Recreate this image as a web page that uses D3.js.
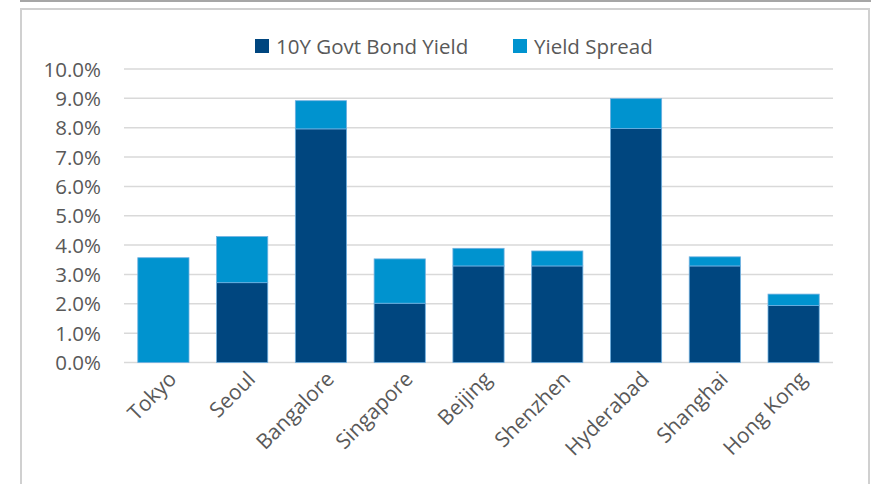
<!DOCTYPE html>
<meta charset="utf-8">
<style>
    body { margin: 0; background: #fff; }
    .tick text { font-family: 'Open Sans', sans-serif; fill: #595959; }
    .legend text { font-family: 'Open Sans', sans-serif; fill: #595959; font-size: 20.5px; }
</style>
<body>
<script src="https://d3js.org/d3.v7.min.js"></script>
<script>
    var cities = ["Tokyo", "Seoul", "Bangalore", "Singapore", "Beijing", "Shenzhen", "Hyderabad", "Shanghai", "Hong Kong"];
    var bondYield = [0, 2.72, 7.96, 2.02, 3.29, 3.29, 7.97, 3.29, 1.94];
    var yieldSpread = [3.57, 1.57, 0.96, 1.51, 0.6, 0.51, 1.02, 0.31, 0.39];
    var seriesNames = ["10Y Govt Bond Yield", "Yield Spread"];
    var colors = ["#00467f", "#0093cf"];
    var yTicks = [0, 1, 2, 3, 4, 5, 6, 7, 8, 9, 10];

    var width = 876, height = 484;
    var svg = d3.select("body").append("svg")
        .attr("width", width)
        .attr("height", height);

    // frame
    svg.append("line").attr("x1", 20).attr("x2", 871).attr("y1", 1).attr("y2", 1)
        .attr("stroke", "#a6a6a6").attr("stroke-width", 2);
    svg.append("path").attr("d", "M21,484V9H869V484")
        .attr("fill", "none").attr("stroke", "#d0d0d0").attr("stroke-width", 2);

    var x = d3.scaleBand().domain(cities).range([124, 833]).paddingInner(0.35).paddingOuter(0.175);
    var y = d3.scaleLinear().domain([0, 10]).range([362.5, 69]);

    var rows = cities.map(function(c, i) {
        return { city: c, bond: bondYield[i], spread: yieldSpread[i] };
    });
    var stacked = d3.stack().keys(["bond", "spread"])(rows);

    // grid
    svg.append("g").selectAll("line")
        .data(yTicks)
        .enter().append("line")
        .attr("x1", 124).attr("x2", 833)
        .attr("y1", function(d) { return y(d); })
        .attr("y2", function(d) { return y(d); })
        .attr("stroke", "#d9d9d9").attr("stroke-width", 1.5);

    // y axis
    var yAxis = svg.append("g")
        .attr("transform", "translate(101,0)")
        .call(d3.axisLeft(y).tickValues(yTicks).tickSize(0).tickPadding(0)
            .tickFormat(function(d) { return d.toFixed(1) + "%"; }));
    yAxis.select(".domain").remove();
    yAxis.selectAll("text").attr("font-size", 20.5).attr("dy", "0.35em");

    // bars
    svg.append("g").selectAll("g")
        .data(stacked)
        .enter().append("g")
        .attr("fill", function(d, i) { return colors[i]; })
        .selectAll("rect")
        .data(function(d) { return d; })
        .enter().append("rect")
        .filter(function(d) { return d[1] - d[0] > 0; })
        .attr("x", function(d) { return x(d.data.city); })
        .attr("width", x.bandwidth())
        .attr("y", function(d) { return y(d[1]); })
        .attr("height", function(d) { return y(d[0]) - y(d[1]); })
        .attr("stroke", "#6fb0e0").attr("stroke-width", 0.8);

    // x axis
    var xAxis = svg.append("g")
        .attr("transform", "translate(0,370)")
        .call(d3.axisBottom(x).tickSize(0).tickPadding(0));
    xAxis.select(".domain").remove();
    xAxis.selectAll("text")
        .attr("font-size", 21)
        .attr("text-anchor", "end")
        .attr("dy", "0.7em")
        .attr("transform", "translate(4,0) rotate(-45)");

    // legend
    var legend = svg.append("g").attr("class", "legend");
    var legendX = [255, 513];
    seriesNames.forEach(function(name, i) {
        legend.append("rect").attr("x", legendX[i]).attr("y", 39)
            .attr("width", 14).attr("height", 14).attr("fill", colors[i]);
        legend.append("text").attr("x", legendX[i] + 21).attr("y", 54).text(name);
    });
</script>
